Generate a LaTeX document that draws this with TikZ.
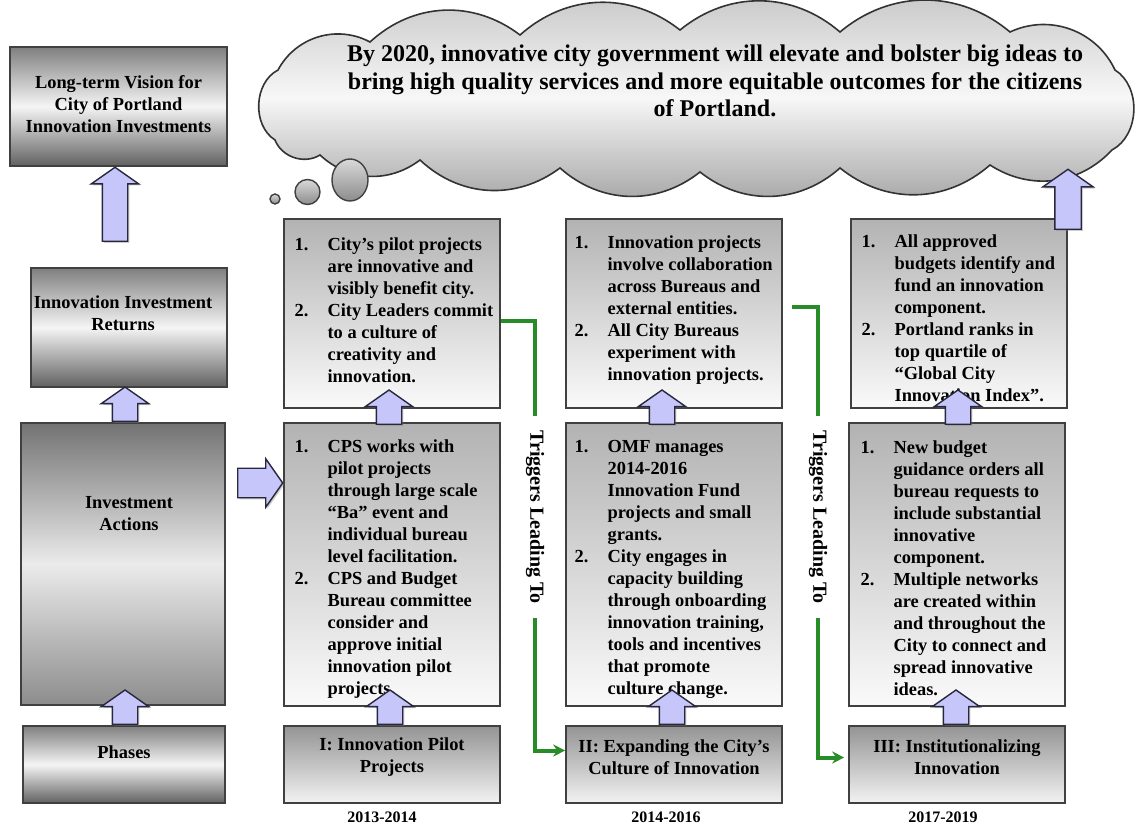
\documentclass[tikz,border=0pt]{standalone}
\usepackage{fontspec}
\setmainfont{Liberation Serif}
\usetikzlibrary{shapes.arrows,shapes.geometric,arrows.meta,positioning,shadows}

\definecolor{arrowfill}{RGB}{198,198,250}
\definecolor{arrowline}{RGB}{40,40,60}
\definecolor{trigreen}{RGB}{40,140,40}

\newcommand{\boxfont}{\fontsize{9.2}{11}\selectfont\bfseries}
\newcommand{\itemnr}[1]{\makebox[16.5pt][l]{#1}}
\newcommand{\itemgap}{\hspace*{16.5pt}}

\tikzstyle{plainbox} = [
  rectangle,
  draw=black!75,
  line width=0.8pt,
  inner sep=0pt]
\tikzstyle{leftbox} = [
  plainbox,
  top color=black!50,
  bottom color=black!62,
  middle color=black!4]
\tikzstyle{listbox} = [
  plainbox,
  top color=black!30,
  bottom color=black!2,
  minimum width=108pt]
\tikzstyle{phasebox} = [
  plainbox,
  top color=black!42,
  bottom color=black!5,
  minimum width=108pt,
  minimum height=38.5pt]
\tikzstyle{titletext} = [
  align=center,
  inner sep=0pt,
  font=\boxfont]
\tikzstyle{listtext} = [
  align=left,
  anchor=west,
  inner sep=0pt,
  font=\boxfont]
\tikzstyle{cloudtext} = [
  align=center,
  inner sep=0pt,
  font=\fontsize{12}{13.6}\selectfont\bfseries]
\tikzstyle{cloudline} = [
  draw=black!80,
  line width=0.8pt,
  top color=black!22,
  bottom color=black!36,
  middle color=black!3]
\tikzstyle{yeartext} = [
  inner sep=0pt,
  font=\fontsize{8}{9}\selectfont\bfseries]
\tikzstyle{trigtext} = [
  rotate=-90,
  inner xsep=7pt,
  inner ysep=0pt,
  font=\fontsize{10}{11}\selectfont\bfseries]
\tikzstyle{trigger} = [
  draw=trigreen,
  line width=2pt]
\tikzstyle{blockarrow} = [
  single arrow,
  draw=arrowline,
  fill=arrowfill,
  line width=0.7pt,
  inner sep=6pt,
  single arrow head extend=5.5pt,
  single arrow tip angle=110,
  anchor=tail,
  drop shadow={shadow xshift=0.8pt,shadow yshift=-0.8pt,opacity=0.4}]
\tikzstyle{uparrow} = [
  blockarrow,
  shape border rotate=90]
\tikzstyle{bubble} = [
  draw=black!75,
  line width=0.7pt,
  top color=black!15,
  bottom color=black!45,
  inner sep=0pt]

\begin{document}
\begin{tikzpicture}[x=0.5pt,y=-0.5pt]
  \useasboundingbox (0,0) rectangle (1135,828);

  % vision cloud
  \path[cloudline] (275,140) to[bend left=60] (278,70) to[bend left=45] (370,42)
    to[bend left=40] (520,35) to[bend left=40] (680,30) to[bend left=40] (840,32)
    to[bend left=40] (1010,32) to[bend left=45] (1115,70) to[bend left=60] (1112,150)
    to[bend left=40] (990,165) to[bend left=40] (840,168) to[bend left=40] (700,172)
    to[bend left=40] (560,168) to[bend left=40] (420,160) to[bend left=40] (320,155)
    to[bend left=50] (275,140) -- cycle;
  \node[cloudtext] (vcloudtxt) at (715,81) {By 2020, innovative city government will elevate and bolster big ideas to\\bring high quality services and more equitable outcomes for the citizens\\of Portland.};
  \node[bubble, circle, minimum size=5pt] (bub1) at (275,199) {};
  \node[bubble, circle, minimum size=12.5pt] (bub2) at (307.5,192) {};
  \node[bubble, ellipse, minimum width=18pt, minimum height=21pt] (bub3) at (350,180) {};

  % left column
  \node[leftbox, minimum width=108.5pt, minimum height=59.5pt] (vision) at (118.5,106.5) {};
  \node[titletext] (visiontxt) at ([yshift=1pt]vision.center) {Long-term Vision for\\City of Portland\\Innovation Investments};
  \node[leftbox, minimum width=98pt, minimum height=59.5pt] (returns) at (129,327.5) {};
  \node[titletext] (returnstxt) at ([xshift=-3pt,yshift=7pt]returns.center) {Innovation Investment\\Returns};
  \node[leftbox, top color=black!55, bottom color=black!45, middle color=black!8,
    minimum width=102pt, minimum height=141pt] (actions) at (123,564) {};
  \node[titletext] (actionstxt) at ([xshift=3pt,yshift=25pt]actions.center) {Investment\\Actions};
  \node[leftbox, minimum width=101pt, minimum height=38.5pt] (phases) at (124,764.5) {};
  \node[titletext] (phasestxt) at ([yshift=6pt]phases.center) {Phases};

  % phase I
  \node[listbox, minimum height=94.5pt] (top1) at (392,313.5) {};
  \node[listtext] (top1txt) at ([xshift=5.5pt,yshift=1.5pt]top1.west) {\itemnr{1.}City’s pilot projects\\
    \itemgap are innovative and\\
    \itemgap visibly benefit city.\\
    \itemnr{2.}City Leaders commit\\
    \itemgap to a culture of\\
    \itemgap creativity and\\
    \itemgap innovation.};
  \node[listbox, minimum height=141.5pt] (mid1) at (392,564.5) {};
  \node[listtext] (mid1txt) at ([xshift=5.5pt,yshift=-2.5pt]mid1.west) {\itemnr{1.}CPS works with\\
    \itemgap pilot projects\\
    \itemgap through large scale\\
    \itemgap “Ba” event and\\
    \itemgap individual bureau\\
    \itemgap level facilitation.\\
    \itemnr{2.}CPS and Budget\\
    \itemgap Bureau committee\\
    \itemgap consider and\\
    \itemgap approve initial\\
    \itemgap innovation pilot\\
    \itemgap projects.};
  \node[phasebox] (phase1) at (392,764.5) {};
  \node[titletext] (phase1txt) at ([yshift=3.5pt]phase1.center) {I: Innovation Pilot\\Projects};
  \node[yeartext, below=4pt of phase1, xshift=-5pt] (year1) {2013-2014};

  % phase II
  \node[listbox, minimum height=94.5pt] (top2) at (674,313.5) {};
  \node[listtext] (top2txt) at ([xshift=4.5pt,yshift=1.5pt]top2.west) {\itemnr{1.}Innovation projects\\
    \itemgap involve collaboration\\
    \itemgap across Bureaus and\\
    \itemgap external entities.\\
    \itemnr{2.}All City Bureaus\\
    \itemgap experiment with\\
    \itemgap innovation projects.};
  \node[listbox, minimum height=141.5pt] (mid2) at (674,564.5) {};
  \node[listtext] (mid2txt) at ([xshift=4.5pt,yshift=-2.5pt]mid2.west) {\itemnr{1.}OMF manages\\
    \itemgap 2014-2016\\
    \itemgap Innovation Fund\\
    \itemgap projects and small\\
    \itemgap grants.\\
    \itemnr{2.}City engages in\\
    \itemgap capacity building\\
    \itemgap through onboarding\\
    \itemgap innovation training,\\
    \itemgap tools and incentives\\
    \itemgap that promote\\
    \itemgap culture change.};
  \node[phasebox] (phase2) at (674,764.5) {};
  \node[titletext] (phase2txt) at ([yshift=3.5pt]phase2.center) {II: Expanding the City’s\\Culture of Innovation};
  \node[yeartext, below=4pt of phase2, xshift=-4pt] (year2) {2014-2016};

  % phase III
  \node[listbox, minimum height=94.5pt] (top3) at (959,313.5) {};
  \node[listtext] (top3txt) at ([xshift=5.5pt,yshift=-2.5pt]top3.west) {\itemnr{1.}All approved\\
    \itemgap budgets identify and\\
    \itemgap fund an innovation\\
    \itemgap component.\\
    \itemnr{2.}Portland ranks in\\
    \itemgap top quartile of\\
    \itemgap “Global City\\
    \itemgap Innovation Index”.};
  \node[listbox, minimum height=141.5pt] (mid3) at (957,564.5) {};
  \node[listtext] (mid3txt) at ([xshift=6pt,yshift=-2pt]mid3.west) {\itemnr{1.}New budget\\
    \itemgap guidance orders all\\
    \itemgap bureau requests to\\
    \itemgap include substantial\\
    \itemgap innovative\\
    \itemgap component.\\
    \itemnr{2.}Multiple networks\\
    \itemgap are created within\\
    \itemgap and throughout the\\
    \itemgap City to connect and\\
    \itemgap spread innovative\\
    \itemgap ideas.};
  \node[phasebox] (phase3) at (957,764.5) {};
  \node[titletext] (phase3txt) at ([yshift=3.5pt]phase3.center) {III: Institutionalizing\\Innovation};
  \node[yeartext, below=4pt of phase3, xshift=-7pt] (year3) {2017-2019};

  % triggers
  \node[trigtext] (trig1) at (535,517) {Triggers Leading To};
  \node[trigtext] (trig2) at (818,517) {Triggers Leading To};
  \draw[trigger] ([yshift=-4pt]top1.east) -| (trig1.west);
  \draw[trigger, -{Stealth[length=6pt,width=6pt]}] (trig1.east) |- ([yshift=7pt]phase2.west);
  \draw[trigger] ([xshift=4.5pt,yshift=3pt]top2.east) -| (trig2.west);
  \draw[trigger, -{Stealth[length=6pt,width=6pt]}, shorten >=2pt] (trig2.east) |- ([yshift=3.5pt]phase3.west);

  % block arrows
  \node[uparrow, minimum height=37pt] (arrvision) at (115,242) {};
  \node[uparrow, minimum height=17pt] (arrreturns) at (125,422) {};
  \node[uparrow, minimum height=14.5pt] (arractions) at (125,725) {};
  \node[blockarrow, minimum height=22.5pt, inner sep=7pt,
    single arrow head extend=4.75pt] (arrin) at (237,483) {};
  \node[uparrow, minimum height=13.5pt] (arrtop1) at (389,425) {};
  \node[uparrow, minimum height=13.5pt] (arrmid1) at (390,725) {};
  \node[uparrow, minimum height=13.5pt] (arrtop2) at (662,425) {};
  \node[uparrow, minimum height=13.5pt] (arrmid2) at (672,725) {};
  \node[uparrow, minimum height=13.5pt] (arrtop3) at (958,425) {};
  \node[uparrow, minimum height=13.5pt] (arrmid3) at (956,725) {};
  \node[uparrow, minimum height=30pt, inner sep=6.25pt,
    single arrow head extend=6pt] (arrvisiontop) at (1068,230) {};
\end{tikzpicture}
\end{document}
